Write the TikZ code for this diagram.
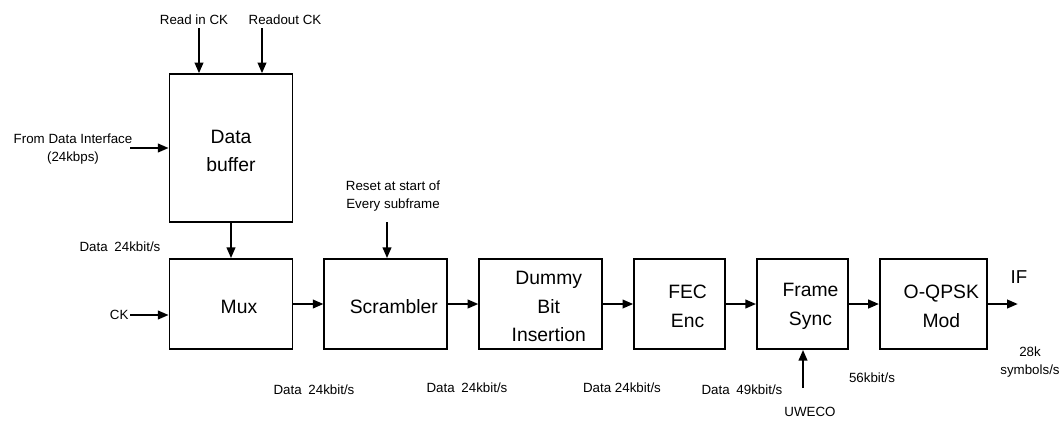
\documentclass[tikz,border=0pt]{standalone}
\usepackage{fontspec}
\setmainfont{Liberation Sans}
\usetikzlibrary{positioning,arrows.meta,calc}

\begin{document}
\begin{tikzpicture}[
  x=0.75pt, y=-0.75pt,
  node distance=26.25pt and 22.5pt,
  blk/.style={rectangle, draw, line width=1.4pt, minimum height=67.5pt, inner sep=0pt},
  blkW/.style={blk, minimum width=92.25pt},
  blkN/.style={blk, minimum width=68.25pt},
  txt/.style={font=\fontsize{14.5}{21.5}\selectfont, align=center, xshift=6pt, yshift=-2pt},
  lbl/.style={font=\fontsize{10}{14}\selectfont, align=center, inner sep=1pt},
  arr/.style={-{Triangle[length=8pt,width=6.5pt]}, line width=1.4pt}
]
\useasboundingbox (0,0) rectangle (1062,422);

% processing chain
\node[blkW, label={[txt]center:Mux}] (mux) at (231,304) {};
\node[blkW, minimum height=111pt, above=of mux, label={[txt, xshift=-6pt]center:{Data\\buffer}}] (buf) {};
\node[blkW, right=of mux, label={[txt]center:Scrambler}] (scr) {};
\node[blkW, right=of scr, label={[txt]center:{Dummy\\Bit\\Insertion}}] (dum) {};
\node[blkN, right=of dum, label={[txt]center:{FEC\\Enc}}] (fec) {};
\node[blkN, right=of fec, label={[txt]center:{Frame\\Sync}}] (fs) {};
\node[blk, minimum width=80.25pt, right=of fs, label={[txt]center:{O-QPSK\\Mod}}] (mod) {};

\draw[arr] (buf) -- (mux);
\foreach \a/\b in {mux/scr, scr/dum, dum/fec, fec/fs, fs/mod}
  \draw[arr] (\a) -- (\b);

% side inputs and output
\coordinate (rin) at (199,28);
\coordinate (rout) at (262,28);
\coordinate (fdi) at (130,148);
\coordinate (ckin) at (130,315);
\coordinate (rst) at (387,222);
\coordinate (uw) at (803,388);
\coordinate (ifout) at ($(mod.east)+(30,0)$);

\draw[arr] (rin) -- (rin |- buf.north);
\draw[arr] (rout) -- (rout |- buf.north);
\draw[arr] (fdi) -- (fdi -| buf.west);
\draw[arr] (ckin) -- (ckin -| mux.west);
\draw[arr] (rst) -- (rst |- scr.north);
\draw[arr] (uw) -- (uw |- fs.south);
\draw[arr] (mod.east) -- (ifout);

% labels
\node[lbl] (lrin) at (194,20) {Read in CK};
\node[lbl] (lrout) at (285,20) {Readout CK};
\node[lbl] (lfdi) at (73,149) {From Data Interface\\(24kbps)};
\node[lbl] (ldb) at (120,247) {Data\enspace 24kbit/s};
\node[lbl, anchor=east] (lck) at (ckin) {CK};
\node[lbl] (lrst) at (393,196) {Reset at start of\\Every subframe};
\node[lbl] (l1) at (314,390) {Data\enspace 24kbit/s};
\node[lbl] (l2) at (467,388) {Data\enspace 24kbit/s};
\node[lbl] (l3) at (622,388) {Data 24kbit/s};
\node[lbl] (l4) at (742,390) {Data\enspace 49kbit/s};
\node[lbl] (l5) at (872,378) {56kbit/s};
\node[lbl] (luw) at (810,412) {UWECO};
\node[font=\fontsize{14}{16}\selectfont] (lif) at (1019,277) {IF};
\node[lbl] (lsym) at (1030,362) {28k\\symbols/s};
\end{tikzpicture}
\end{document}
